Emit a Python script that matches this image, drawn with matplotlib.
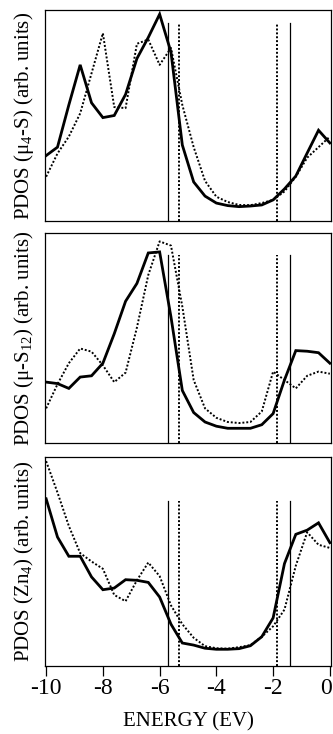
import matplotlib
matplotlib.use("Agg")
import matplotlib.pyplot as plt
import matplotlib.transforms as mtransforms
import numpy as np

plt.rcParams['font.family'] = ['Liberation Serif', 'DejaVu Serif']
plt.rcParams['mathtext.fontset'] = 'custom'
plt.rcParams['mathtext.rm'] = 'Liberation Serif'
plt.rcParams['mathtext.it'] = 'Liberation Serif:italic'
plt.rcParams['axes.unicode_minus'] = False

energy = [-10.0, -9.6, -9.2, -8.8, -8.4, -8.0, -7.6, -7.2, -6.8, -6.4, -6.0, -5.6, -5.2,
          -4.8, -4.4, -4.0, -3.6, -3.2, -2.8, -2.4, -2.0, -1.6, -1.2, -0.8, -0.4, 0.0]

s4_solid = [0.31, 0.35, 0.55, 0.74, 0.56, 0.49, 0.50, 0.60, 0.77, 0.87, 0.98, 0.80, 0.36,
            0.185, 0.118, 0.085, 0.073, 0.068, 0.071, 0.076, 0.10, 0.152, 0.213, 0.322, 0.43, 0.37]
s4_dotted = [0.21, 0.32, 0.40, 0.51, 0.70, 0.89, 0.54, 0.535, 0.84, 0.86, 0.74, 0.82, 0.55,
             0.35, 0.19, 0.115, 0.09, 0.076, 0.075, 0.085, 0.10, 0.14, 0.21, 0.30, 0.35, 0.40]

s12_solid = [0.29, 0.283, 0.26, 0.314, 0.32, 0.38, 0.52, 0.675, 0.76, 0.905, 0.91, 0.60, 0.25,
             0.145, 0.10, 0.08, 0.07, 0.07, 0.07, 0.087, 0.14, 0.30, 0.44, 0.437, 0.43, 0.38]
s12_dotted = [0.165, 0.28, 0.38, 0.45, 0.435, 0.37, 0.29, 0.335, 0.55, 0.80, 0.96, 0.94, 0.65,
              0.30, 0.165, 0.12, 0.10, 0.095, 0.10, 0.15, 0.34, 0.30, 0.26, 0.32, 0.34, 0.33]

zn_solid = [0.80, 0.617, 0.525, 0.525, 0.426, 0.365, 0.373, 0.413, 0.41, 0.40, 0.33, 0.20, 0.11,
            0.10, 0.085, 0.08, 0.08, 0.083, 0.097, 0.14, 0.23, 0.49, 0.63, 0.65, 0.685, 0.59]
zn_dotted = [0.98, 0.83, 0.67, 0.54, 0.50, 0.465, 0.34, 0.31, 0.41, 0.495, 0.43, 0.29, 0.20,
             0.135, 0.095, 0.085, 0.083, 0.09, 0.10, 0.14, 0.19, 0.27, 0.48, 0.64, 0.58, 0.565]

# band-edge markers
solid_edges = [-5.72, -1.42]
dotted_edges = [-5.33, -1.86]
edge_heights = [0.94, 0.895, 0.79]

ylabels = [r"PDOS (μ$_4$-S) (arb. units)",
           r"PDOS (μ-S$_{12}$) (arb. units)",
           r"PDOS (Zn$_4$) (arb. units)"]
xticks = [-10, -8, -6, -4, -2, 0]

W, H = 333, 734
fig = plt.figure(figsize=(W / 100, H / 100), dpi=100)

panels = [(10, 221), (233, 443), (457, 666)]
left, right = 45, 331
series = [(s4_solid, s4_dotted), (s12_solid, s12_dotted), (zn_solid, zn_dotted)]

for i, ((top, bot), (sol, dot)) in enumerate(zip(panels, series)):
    ax = fig.add_axes([left / W, 1 - bot / H, (right - left) / W, (bot - top) / H])
    ax.plot(energy, sol, color='black', lw=2.0, solid_joinstyle='miter')
    ax.plot(energy, dot, color='black', lw=1.4, linestyle=(0, (1, 1)))
    for e in solid_edges:
        ax.plot([e, e], [0, edge_heights[i]], color='black', lw=0.9)
    for e in dotted_edges:
        ax.plot([e, e], [0, edge_heights[i]], color='black', lw=1.4, linestyle=(0, (1, 1)))
    ax.set_xlim(-10.04, 0.04)
    ax.set_ylim(0, 1)
    ax.set_yticks([])
    for sp in ax.spines.values():
        sp.set_linewidth(0.9)
    if i < 2:
        ax.set_xticks([])
    else:
        ax.set_xticks(xticks)
        ax.set_xticklabels([str(t) for t in xticks])
        ax.tick_params(axis='x', direction='out', length=7, width=0.9, labelsize=17, pad=2)
        ax.set_xlabel("ENERGY (EV)", fontsize=15, labelpad=9)
        last = ax.get_xticklabels()[-1]
        last.set_transform(last.get_transform() +
                           mtransforms.ScaledTranslation(-4 / 100, 0, fig.dpi_scale_trans))
    fig.text(24 / W, 1 - ((top + bot) / 2) / H, ylabels[i], rotation=90,
             ha='center', va='center', fontsize=15)

fig.savefig("out.png", dpi=100)
